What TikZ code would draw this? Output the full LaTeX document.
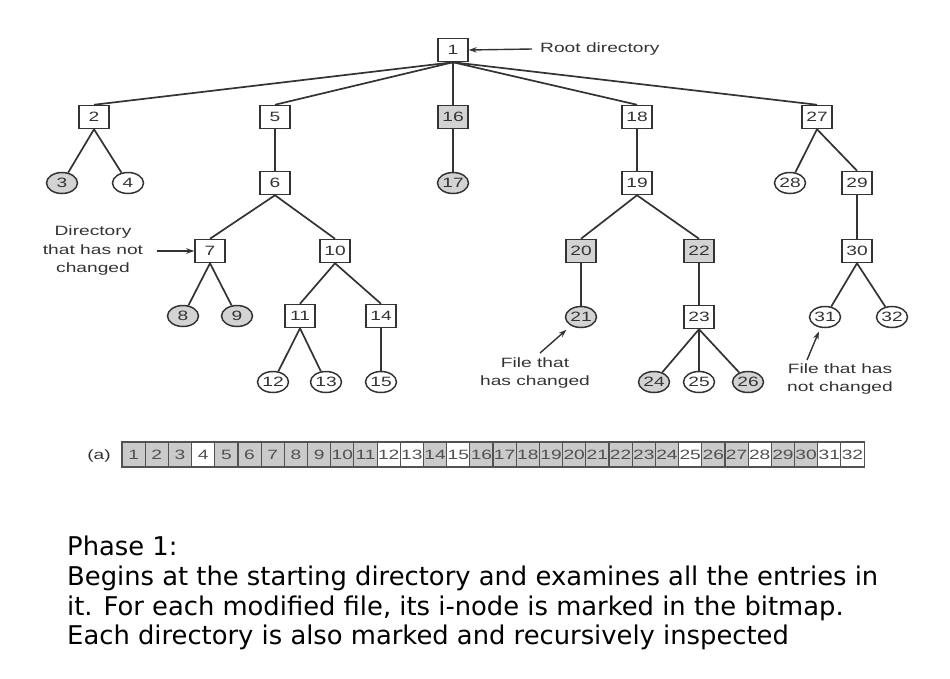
\documentclass[tikz,border=0pt]{standalone}
\usepackage{fontspec}
\usetikzlibrary{shapes.geometric,arrows.meta,calc}
\newfontfamily\treefont[FakeStretch=1.42]{Liberation Sans}
\newfontfamily\bodyfont{DejaVu Sans}
\definecolor{ink}{HTML}{333333}
\definecolor{chg}{HTML}{D3D3D3}
\definecolor{bitg}{HTML}{CACACA}
\definecolor{bitt}{HTML}{505050}
\begin{document}
\begin{tikzpicture}[x=1pt,y=-1pt,
  every node/.style={font=\treefont\fontsize{13.5}{18.5}\selectfont, text=ink},
  dirbox/.style={draw=ink, line width=1.5pt, minimum width=30pt, minimum height=23pt, inner sep=0pt, fill=white},
  filenode/.style={ellipse, draw=ink, line width=1.5pt, minimum width=31pt, minimum height=21pt, inner sep=0pt, fill=white},
  changed/.style={fill=chg},
  edge/.style={draw=ink, line width=1.7pt},
  callout/.style={draw=ink, line width=1.4pt, -{Stealth[length=8pt,width=5.5pt]}},
  label/.style={align=center, inner sep=0pt},
  bitcell/.style={draw=ink!85, line width=1.1pt, minimum width=23.19pt, minimum height=25pt, inner sep=0pt, text=bitt},
  bodytext/.style={font=\bodyfont\fontsize{25.8}{29.5}\selectfont, text=black, anchor=base west, inner sep=0pt}
]
\useasboundingbox[fill=white] (0,0) rectangle (950,678);

% directories and files
\node[dirbox] (n1) at (453,50) {1};
\node[dirbox] (n2) at (94,117) {2};
\node[dirbox] (n5) at (275,117) {5};
\node[dirbox,changed] (n16) at (453,117) {16};
\node[dirbox] (n18) at (637,117) {18};
\node[dirbox] (n27) at (817,117) {27};

\node[filenode,changed] (n3) at (62,183) {3};
\node[filenode] (n4) at (128,183) {4};
\node[dirbox] (n6) at (275,183) {6};
\node[filenode,changed] (n17) at (453,183) {17};
\node[dirbox] (n19) at (637,183) {19};
\node[filenode] (n28) at (790,183) {28};
\node[dirbox] (n29) at (857,183) {29};

\node[dirbox] (n7) at (210,251) {7};
\node[dirbox] (n10) at (335,251) {10};
\node[dirbox,changed] (n20) at (581,251) {20};
\node[dirbox,changed] (n22) at (699,251) {22};
\node[dirbox] (n30) at (857,251) {30};

\node[filenode,changed] (n8) at (183,316) {8};
\node[filenode,changed] (n9) at (237,316) {9};
\node[dirbox] (n11) at (300,316) {11};
\node[dirbox] (n14) at (381,316) {14};
\node[filenode,changed] (n21) at (581,317) {21};
\node[dirbox] (n23) at (699,317) {23};
\node[filenode] (n31) at (825,317) {31};
\node[filenode] (n32) at (892,317) {32};

\node[filenode] (n12) at (273,382) {12};
\node[filenode] (n13) at (326,382) {13};
\node[filenode] (n15) at (381,382) {15};
\node[filenode,changed] (n24) at (654,382) {24};
\node[filenode] (n25) at (699,382) {25};
\node[filenode,changed] (n26) at (748,382) {26};

% edges
\foreach \c in {n2,n5,n16,n18,n27} \draw[edge] (n1.south) -- (\c.north);
\draw[edge] (n2.south) -- (n3);
\draw[edge] (n2.south) -- (n4);
\draw[edge] (n5.south) -- (n6.north);
\draw[edge] (n16.south) -- (n17);
\draw[edge] (n18.south) -- (n19.north);
\draw[edge] (n27.south) -- (n28);
\draw[edge] (n27.south) -- (n29.north);
\draw[edge] (n6.south) -- (n7.north);
\draw[edge] (n6.south) -- (n10.north);
\draw[edge] (n19.south) -- (n20.north);
\draw[edge] (n19.south) -- (n22.north);
\draw[edge] (n29.south) -- (n30.north);
\draw[edge] (n7.south) -- (n8);
\draw[edge] (n7.south) -- (n9);
\draw[edge] (n10.south) -- (n11.north);
\draw[edge] (n10.south) -- (n14.north);
\draw[edge] (n20.south) -- (n21);
\draw[edge] (n22.south) -- (n23.north);
\draw[edge] (n30.south) -- (n31);
\draw[edge] (n30.south) -- (n32);
\draw[edge] (n11.south) -- (n12);
\draw[edge] (n11.south) -- (n13);
\draw[edge] (n14.south) -- (n15);
\draw[edge] (n23.south) -- (n24);
\draw[edge] (n23.south) -- (n25);
\draw[edge] (n23.south) -- (n26);

% callouts
\node[label, anchor=west] (lroot) at (540,49) {Root directory};
\coordinate (aroot) at (532,49);
\draw[callout] (aroot) -- (n1.east);

\node[label] (ldir) at (93,251) {Directory\\that has not\\changed};
\coordinate (adir) at (157,251);
\draw[callout] (adir) -- (n7.west);

\node[label] (lchg) at (535,373) {File that\\has changed};
\coordinate (achg) at (540,353);
\draw[callout, shorten >=6pt] (achg) -- (n21);

\node[label] (lnot) at (840,379) {File that has\\not changed};
\coordinate (anot) at (807,360);
\draw[callout, shorten >=4pt] (anot) -- (n31);

% bitmap
\node[label] (la) at (99,456) {(a)};
\foreach \i/\c in {1/bitg,2/bitg,3/bitg,4/white,5/bitg,6/bitg,7/bitg,8/bitg,9/bitg,10/bitg,11/bitg,12/white,13/white,14/bitg,15/white,16/bitg,17/bitg,18/bitg,19/bitg,20/bitg,21/bitg,22/bitg,23/bitg,24/bitg,25/white,26/bitg,27/bitg,28/white,29/bitg,30/bitg,31/white,32/white}
  \node[bitcell, fill=\c] (b\i) at ({122+(\i-0.5)*23.19},454.5) {\i};
\draw[ink!85, line width=1.6pt] (b1.north west) rectangle (b32.south east);

% text
\node[bodytext] (t1) at (67,555) {Phase 1:};
\node[bodytext] (t2) at (67,585) {Begins at the starting directory and examines all the entries in};
\node[bodytext] (t3) at (67,615) {it. For each modified file, its i-node is marked in the bitmap.};
\node[bodytext] (t4) at (67,644) {Each directory is also marked and recursively inspected};
\end{tikzpicture}
\end{document}
